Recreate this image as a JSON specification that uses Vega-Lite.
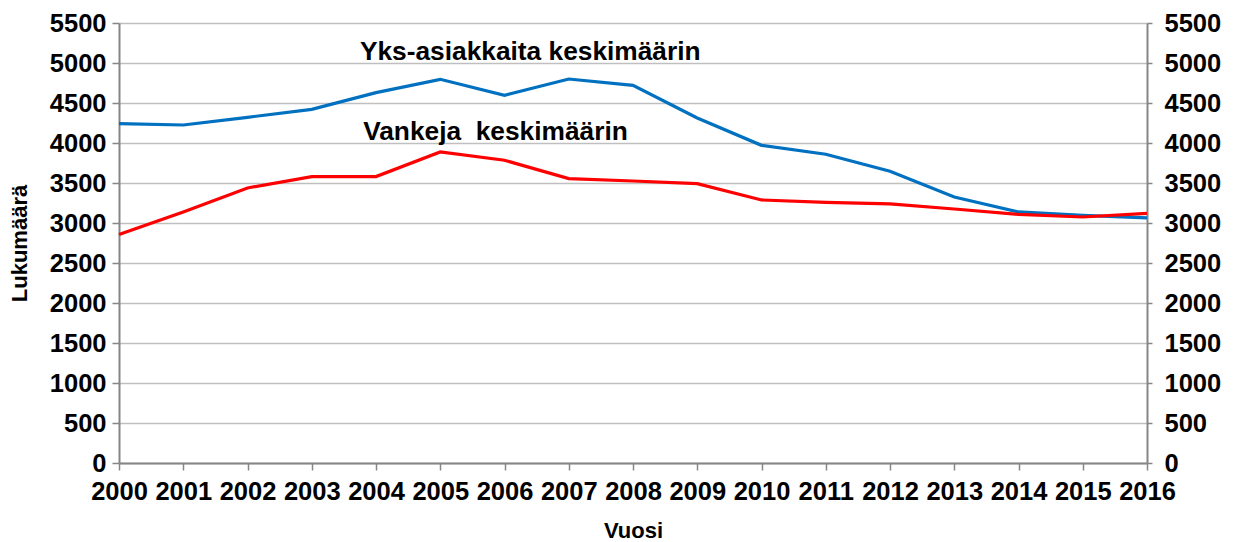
{
  "$schema": "https://vega.github.io/schema/vega-lite/v6.json",
  "width": 1028,
  "height": 440,
  "autosize": "none",
  "padding": {"left": 119, "top": 23, "right": 90, "bottom": 79},
  "background": "white",
  "config": {
    "view": {"stroke": null},
    "axis": {
      "labelFont": "Liberation Sans",
      "labelFontWeight": "bold",
      "labelFontSize": 25.5,
      "labelColor": "#000000",
      "titleFont": "Liberation Sans",
      "titleFontWeight": "bold",
      "titleFontSize": 22,
      "titleColor": "#000000",
      "domainColor": "#868686",
      "domainWidth": 2,
      "tickColor": "#868686",
      "tickWidth": 1.5,
      "tickSize": 7,
      "gridColor": "#BFBFBF",
      "gridWidth": 1.5
    }
  },
  "datasets": {
    "yks": [
      {"vuosi": 2000, "lukumaara": 4242},
      {"vuosi": 2001, "lukumaara": 4225},
      {"vuosi": 2002, "lukumaara": 4321},
      {"vuosi": 2003, "lukumaara": 4421},
      {"vuosi": 2004, "lukumaara": 4630},
      {"vuosi": 2005, "lukumaara": 4796},
      {"vuosi": 2006, "lukumaara": 4596},
      {"vuosi": 2007, "lukumaara": 4800},
      {"vuosi": 2008, "lukumaara": 4721},
      {"vuosi": 2009, "lukumaara": 4313},
      {"vuosi": 2010, "lukumaara": 3971},
      {"vuosi": 2011, "lukumaara": 3859},
      {"vuosi": 2012, "lukumaara": 3646},
      {"vuosi": 2013, "lukumaara": 3325},
      {"vuosi": 2014, "lukumaara": 3138},
      {"vuosi": 2015, "lukumaara": 3096},
      {"vuosi": 2016, "lukumaara": 3063}
    ],
    "vankeja": [
      {"vuosi": 2000, "lukumaara": 2855},
      {"vuosi": 2001, "lukumaara": 3138},
      {"vuosi": 2002, "lukumaara": 3438},
      {"vuosi": 2003, "lukumaara": 3580},
      {"vuosi": 2004, "lukumaara": 3580},
      {"vuosi": 2005, "lukumaara": 3888},
      {"vuosi": 2006, "lukumaara": 3784},
      {"vuosi": 2007, "lukumaara": 3555},
      {"vuosi": 2008, "lukumaara": 3525},
      {"vuosi": 2009, "lukumaara": 3492},
      {"vuosi": 2010, "lukumaara": 3288},
      {"vuosi": 2011, "lukumaara": 3259},
      {"vuosi": 2012, "lukumaara": 3238},
      {"vuosi": 2013, "lukumaara": 3175},
      {"vuosi": 2014, "lukumaara": 3108},
      {"vuosi": 2015, "lukumaara": 3075},
      {"vuosi": 2016, "lukumaara": 3121}
    ],
    "labels": [
      {"teksti": "Yks-asiakkaita keskimäärin", "vuosi": 2003.75, "lukumaara": 5034},
      {"teksti": "Vankeja\u00a0 keskimäärin", "vuosi": 2003.8, "lukumaara": 4034}
    ]
  },
  "layer": [
    {
      "data": {"name": "yks"},
      "mark": {"type": "line", "color": "#0070C0", "strokeWidth": 3.2},
      "encoding": {
        "x": {
          "field": "vuosi", "type": "quantitative",
          "scale": {"domain": [2000, 2016], "nice": false, "zero": false},
          "axis": {
            "title": "Vuosi",
            "values": [2000,2001,2002,2003,2004,2005,2006,2007,2008,2009,2010,2011,2012,2013,2014,2015,2016],
            "format": "d",
            "grid": false,
            "labelOverlap": false,
            "labelFlush": false,
            "labelPadding": 9,
            "titlePadding": 16
          }
        },
        "y": {
          "field": "lukumaara", "type": "quantitative",
          "scale": {"domain": [0, 5500], "nice": false},
          "axis": {
            "title": "Lukumäärä",
            "orient": "left",
            "values": [0,500,1000,1500,2000,2500,3000,3500,4000,4500,5000,5500],
            "format": "d",
            "grid": true,
            "labelPadding": 6,
            "titlePadding": 18
          }
        }
      }
    },
    {
      "data": {"name": "vankeja"},
      "mark": {"type": "line", "color": "#FF0000", "strokeWidth": 3.2},
      "encoding": {
        "x": {"field": "vuosi", "type": "quantitative"},
        "y": {
          "field": "lukumaara", "type": "quantitative",
          "scale": {"domain": [0, 5500], "nice": false},
          "axis": {
            "title": null,
            "orient": "right",
            "values": [0,500,1000,1500,2000,2500,3000,3500,4000,4500,5000,5500],
            "format": "d",
            "grid": false,
            "labelPadding": 12,
            "tickSize": 5
          }
        }
      }
    },
    {
      "data": {"name": "labels"},
      "mark": {"type": "text", "align": "left", "baseline": "alphabetic", "font": "Liberation Sans", "fontWeight": "bold", "fontSize": 26.3, "color": "#000000"},
      "encoding": {
        "x": {"field": "vuosi", "type": "quantitative"},
        "y": {"field": "lukumaara", "type": "quantitative", "scale": {"domain": [0, 5500], "nice": false}, "axis": null},
        "text": {"field": "teksti"}
      }
    }
  ],
  "resolve": {"scale": {"y": "independent"}, "axis": {"y": "independent"}}
}
